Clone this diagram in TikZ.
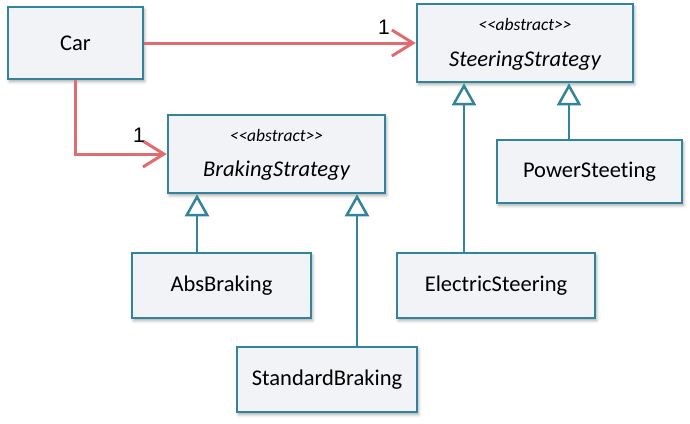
\documentclass[tikz,border=0pt]{standalone}
\usepackage{fontspec}
\setmainfont[Ligatures={NoCommon}]{Carlito}
\newfontfamily\multfont{Liberation Sans}
\usetikzlibrary{arrows.meta,shadows.blur}
\definecolor{umlteal}{RGB}{49,132,155}
\definecolor{umlfill}{RGB}{242,243,246}
\definecolor{assoc}{RGB}{224,108,112}
\begin{document}
\begin{tikzpicture}[x=1pt,y=-1pt,
  cls/.style={draw=umlteal, line width=2.5pt, fill=umlfill, inner sep=0pt,
    font=\fontsize{22.5}{26}\selectfont,
    blur shadow={shadow xshift=1.5pt, shadow yshift=-2.5pt, shadow blur radius=3pt, shadow opacity=35}},
  stereo/.style={font=\fontsize{17.5}{19}\selectfont\itshape, inner sep=0pt},
  clsname/.style={font=\fontsize{22.5}{26}\selectfont\itshape, inner sep=0pt},
  mult/.style={font=\multfont\fontsize{21}{23}\selectfont, inner sep=0pt},
  assocline/.style={draw=assoc, line width=3pt,
    -{Straight Barb[length=21pt, width=26pt, line width=3pt]}},
  genline/.style={draw=umlteal, line width=2.5pt,
    -{Triangle[length=22pt, width=24pt, fill=white, line width=2.5pt]}}]
\useasboundingbox (0,0) rectangle (690,423);

\node[cls, minimum width=135pt, minimum height=72pt] (car) at (75.5,43) {Car};
\node[cls, minimum width=216pt, minimum height=78pt] (steer) at (525,43) {};
\node[stereo] (steerst) at ([yshift=-22pt]steer.north) {{<}{<}abstract{>}{>}};
\node[clsname] (steernm) at ([yshift=-58pt]steer.north) {SteeringStrategy};
\node[cls, minimum width=217pt, minimum height=78pt] (brake) at (276.5,154) {};
\node[stereo] (brakest) at ([yshift=-22pt]brake.north) {{<}{<}abstract{>}{>}};
\node[clsname] (brakenm) at ([yshift=-57pt]brake.north) {BrakingStrategy};
\node[cls, minimum width=179pt, minimum height=65pt] (abs) at (221.5,285.5) {AbsBraking};
\node[cls, minimum width=180pt, minimum height=65pt] (std) at (327,379.5) {StandardBraking};
\node[cls, minimum width=198pt, minimum height=65pt] (elec) at (496,285.5) {ElectricSteering};
\node[cls, minimum width=185pt, minimum height=63pt] (power) at (589.5,171.5) {PowerSteeting};

\draw[assocline] (car.east) -- (steer.west);
\node[mult] (m1) at (384,27) {1};
\draw[assocline] (car.south) |- (brake.west);
\node[mult] (m2) at (139,135) {1};

\draw[genline] ([xshift=-24.5pt]abs.north) -- ([xshift=-79.5pt]brake.south);
\draw[genline] ([xshift=30pt]std.north) -- ([xshift=80.5pt]brake.south);
\draw[genline] ([xshift=-32pt]elec.north) -- ([xshift=-61pt]steer.south);
\draw[genline] ([xshift=-20.5pt]power.north) -- ([xshift=44pt]steer.south);
\end{tikzpicture}
\end{document}
